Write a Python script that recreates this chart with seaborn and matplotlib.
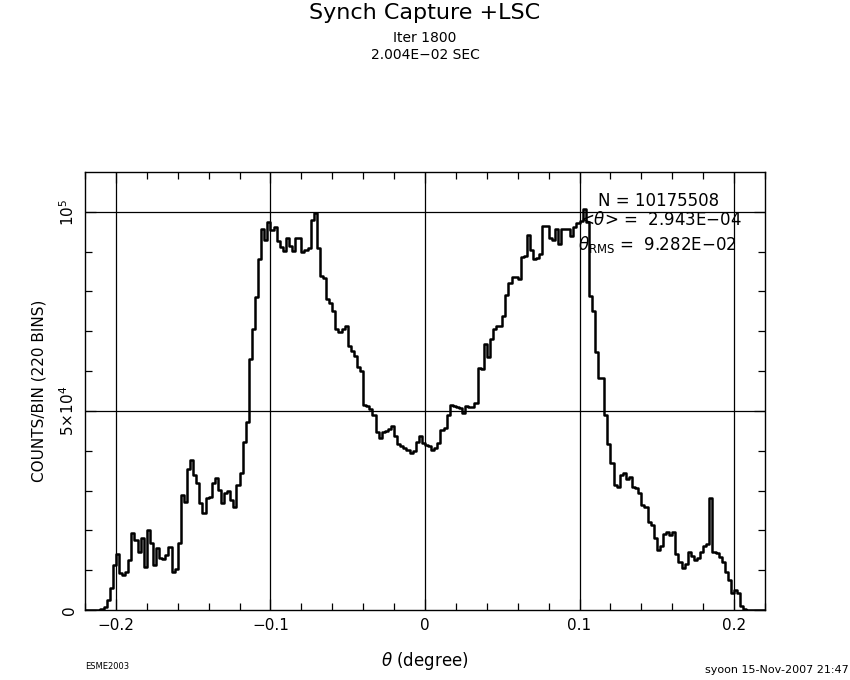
import numpy as np
import matplotlib
matplotlib.use("Agg")
import matplotlib.pyplot as plt
import seaborn as sns
import pandas as pd

# ---------------------------------------------------
# Histogram data (counts per bin, in thousands), 220 bins
# ---------------------------------------------------
theta_min = -0.22
theta_max = 0.22
n_bins = 220

counts_k = [
    0, 0, 0, 0, 0, 0.3, 0.8, 2.5, 5.5, 11.3,
    14.0, 9.3, 8.8, 9.5, 12.6, 19.4, 17.6, 14.6, 18.1, 10.8,
    20.1, 16.9, 11.3, 15.6, 13.1, 12.8, 13.9, 15.9, 9.6, 10.2,
    16.9, 29.0, 27.2, 35.3, 37.8, 34.0, 32.0, 27.0, 24.4, 28.2,
    28.5, 32.0, 33.2, 30.2, 27.0, 29.5, 30.0, 27.7, 26.0, 31.5,
    34.5, 42.3, 47.1, 63.0, 70.5, 78.6, 88.2, 95.7, 93.0, 97.5,
    95.5, 96.2, 92.7, 91.2, 90.2, 93.5, 91.4, 90.2, 93.5, 93.5,
    89.9, 90.5, 90.9, 98.0, 99.7, 90.9, 83.9, 83.5, 78.1, 77.0,
    75.1, 70.5, 69.8, 70.5, 71.3, 66.2, 65.0, 63.7, 61.0, 60.0,
    51.6, 51.3, 50.5, 49.1, 44.8, 43.3, 44.6, 45.0, 45.5, 46.1,
    43.8, 41.6, 41.3, 40.6, 40.3, 39.5, 40.0, 42.3, 43.6, 42.0,
    41.5, 41.3, 40.3, 40.6, 42.0, 45.3, 45.6, 49.1, 51.6, 51.2,
    51.0, 50.8, 49.6, 51.3, 50.9, 51.1, 52.1, 60.7, 60.5, 66.8,
    63.5, 68.0, 70.5, 71.3, 71.3, 73.8, 79.1, 82.1, 83.6, 83.6,
    83.2, 88.7, 88.9, 94.2, 90.4, 88.2, 88.5, 89.5, 96.5, 96.4,
    93.5, 93.0, 95.6, 92.0, 95.7, 95.8, 95.8, 94.0, 96.2, 97.2,
    97.7, 100.7, 97.5, 78.8, 75.0, 64.7, 58.2, 58.2, 49.1, 41.6,
    37.0, 31.5, 31.0, 34.0, 34.3, 33.0, 33.3, 31.0, 30.7, 29.5,
    26.4, 26.0, 22.0, 21.4, 18.0, 15.0, 16.0, 19.0, 19.5, 18.8,
    19.5, 14.0, 12.1, 10.5, 11.5, 14.6, 13.5, 12.5, 13.0, 14.6,
    16.0, 16.5, 28.2, 14.6, 14.3, 13.3, 12.0, 9.6, 7.6, 4.2,
    5.0, 4.2, 1.0, 0.3, 0, 0, 0, 0, 0, 0,
]

x_ticks = [-0.2, -0.1, 0.0, 0.1, 0.2]
x_tick_labels = ["\u22120.2", "\u22120.1", "0", "0.1", "0.2"]
y_ticks = [0, 5e4, 1e5]
y_tick_labels = ["0", r"$5{\times}10^4$", r"$10^5$"]

title = "Synch Capture +LSC"
subtitle_1 = "Iter 1800"
subtitle_2 = "2.004E\u221202 SEC"
stat_n = "N = 10175508"
stat_mean = r"<$\theta$> =  2.943E$-$04"
stat_rms = r"$\theta_{\rm RMS}$ =  9.282E$-$02"

# ---------------------------------------------------
# Build table
# ---------------------------------------------------
edges = np.linspace(theta_min, theta_max, n_bins + 1)
centers = 0.5 * (edges[:-1] + edges[1:])
hist_df = pd.DataFrame({"theta": centers, "counts": np.array(counts_k) * 1000})

# ---------------------------------------------------
# Plot
# ---------------------------------------------------
sns.set_style("white")
plt.rcParams["font.family"] = ["DejaVu Sans"]
plt.rcParams["text.color"] = "black"
plt.rcParams["axes.labelcolor"] = "black"
plt.rcParams["xtick.color"] = "black"
plt.rcParams["ytick.color"] = "black"

fig = plt.figure(figsize=(8.5, 6.8), dpi=100)
ax = fig.add_axes([0.1, 0.1029, 0.8, 0.6441])

sns.histplot(data=hist_df, x="theta", weights="counts", bins=n_bins,
             binrange=(theta_min, theta_max),
             element="step", fill=False, color="black", linewidth=1.8, ax=ax)

# grid lines at major ticks
for xv in x_ticks:
    ax.axvline(xv, color="black", linewidth=0.9, zorder=0)
for yv in y_ticks[1:]:
    ax.axhline(yv, color="black", linewidth=0.9, zorder=0)

ax.set_xlim(theta_min, theta_max)
ax.set_ylim(0, 1.1e5)

ax.set_xticks(x_ticks)
ax.set_xticklabels(x_tick_labels, fontsize=11)
ax.set_xticks(np.arange(-0.22, 0.2201, 0.02), minor=True)
ax.set_yticks(y_ticks)
ax.set_yticklabels(y_tick_labels, fontsize=11, rotation=90, va="center")
ax.set_yticks(np.arange(0, 1.1e5, 1e4), minor=True)

ax.tick_params(which="both", direction="in", top=True, right=True,
               bottom=True, left=True, color="black", width=0.9)
ax.tick_params(which="major", length=8, pad=6)
ax.tick_params(which="minor", length=5)

for sp in ax.spines.values():
    sp.set_visible(True)
    sp.set_color("black")
    sp.set_linewidth(1.0)

ax.set_xlabel(r"$\theta$ (degree)", fontsize=12, labelpad=12)
ax.set_ylabel("COUNTS/BIN (220 BINS)", fontsize=11, labelpad=8)

# stats box text
ax.text(0.755, 0.935, stat_n, transform=ax.transAxes, fontsize=12, ha="left", va="center")
ax.text(0.728, 0.89, stat_mean, transform=ax.transAxes, fontsize=12, ha="left", va="center")
ax.text(0.725, 0.835, stat_rms, transform=ax.transAxes, fontsize=12, ha="left", va="center")

# titles
fig.text(0.5, 0.995, title, fontsize=16, ha="center", va="top")
fig.text(0.5, 0.955, subtitle_1, fontsize=10, ha="center", va="top")
fig.text(0.5, 0.93, subtitle_2, fontsize=10, ha="center", va="top")

# footer
fig.text(0.1, 0.02, "ESME2003", fontsize=6, ha="left", va="center")
fig.text(0.998, 0.014, "syoon 15-Nov-2007 21:47", fontsize=8, ha="right", va="center")

fig.savefig("out.png", dpi=100, facecolor="white")
